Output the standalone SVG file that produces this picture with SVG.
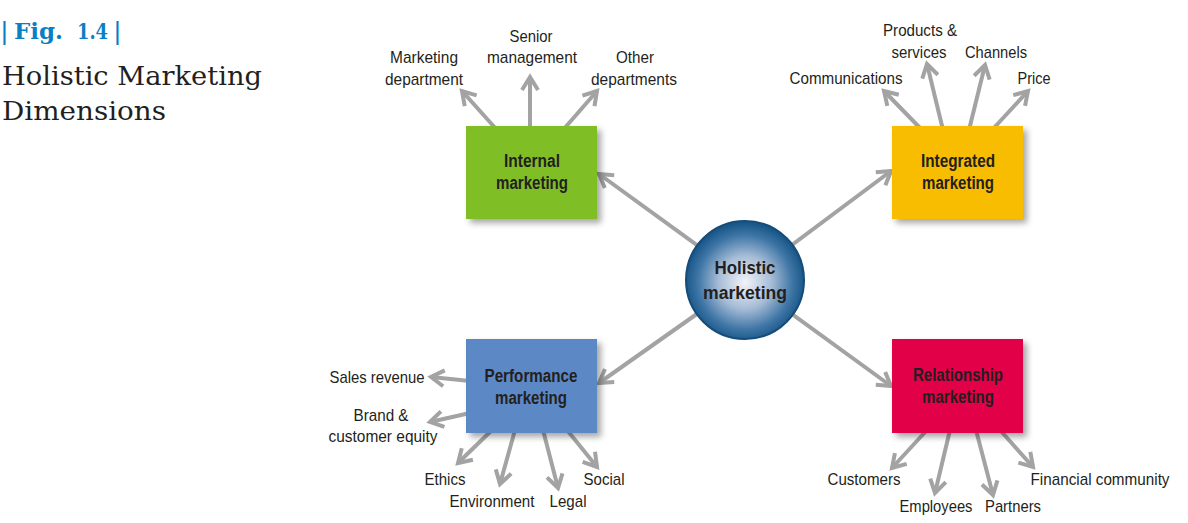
<svg xmlns="http://www.w3.org/2000/svg" width="1188" height="523" viewBox="0 0 1188 523">
<style>
.lbl{font-family:"Liberation Sans",Arial,sans-serif;font-size:17px;fill:#231f20;text-anchor:middle}
.box{font-family:"Liberation Sans",Arial,sans-serif;font-size:18px;font-weight:bold;fill:#231f20;text-anchor:middle}
.con{stroke:#a3a3a3;stroke-width:4;fill:none;marker-end:url(#arr)}
</style>
<defs>
<marker id="arr" markerUnits="userSpaceOnUse" viewBox="-16 -10 20 20" markerWidth="20" markerHeight="20" refX="0" refY="0" orient="auto" overflow="visible">
<path d="M-13,-8 L0,0 L-13,8" fill="none" stroke="#a3a3a3" stroke-width="4" stroke-linejoin="miter"/>
</marker>
<filter id="sh" x="-10%" y="-10%" width="130%" height="130%">
<feDropShadow dx="4" dy="4" stdDeviation="3" flood-color="#000" flood-opacity="0.35"/>
</filter>
<radialGradient id="ball" cx="50%" cy="52%" r="50%">
<stop offset="0" stop-color="#f2f4f8"/>
<stop offset="0.45" stop-color="#a6bcd6"/>
<stop offset="0.8" stop-color="#3f76a6"/>
<stop offset="1" stop-color="#1a588a"/>
</radialGradient>
</defs>
<rect width="1188" height="523" fill="#fff"/>
<g id="title">
<text x="1" y="40" font-family="'Liberation Sans',sans-serif" font-size="26" fill="#0a80c4">|</text>
<text x="14" y="39" font-family="'DejaVu Serif',serif" font-size="22" font-weight="bold" fill="#0a80c4" textLength="49" lengthAdjust="spacingAndGlyphs">Fig.</text>
<text x="77" y="39" font-family="'DejaVu Serif',serif" font-size="22" font-weight="bold" fill="#0a80c4" textLength="31" lengthAdjust="spacingAndGlyphs">1.4</text>
<text x="114" y="40" font-family="'Liberation Sans',sans-serif" font-size="26" fill="#0a80c4">|</text>
<text x="2" y="85" font-family="'DejaVu Serif',serif" font-size="26" fill="#231f20" textLength="260" lengthAdjust="spacingAndGlyphs">Holistic Marketing</text>
<text x="2" y="120" font-family="'DejaVu Serif',serif" font-size="26" fill="#231f20" textLength="164" lengthAdjust="spacingAndGlyphs">Dimensions</text>
</g>
<g id="connectors">
<path class="con" d="M745,280 L599,174"/>
<path class="con" d="M745,280 L891,171"/>
<path class="con" d="M745,280 L599,383"/>
<path class="con" d="M745,280 L891,386"/>
<path class="con" d="M497,130 L462,91"/>
<path class="con" d="M530,130 L530,77"/>
<path class="con" d="M563,130 L597,91"/>
<path class="con" d="M922,130 L884,91"/>
<path class="con" d="M943,130 L927,64"/>
<path class="con" d="M969,130 L985,65"/>
<path class="con" d="M992,130 L1028,91"/>
<path class="con" d="M470,381 L431,377"/>
<path class="con" d="M470,413 L430,422"/>
<path class="con" d="M492,430 L458,463"/>
<path class="con" d="M515,430 L500,484"/>
<path class="con" d="M543,430 L558,488"/>
<path class="con" d="M567,430 L597,467"/>
<path class="con" d="M927,430 L892,468"/>
<path class="con" d="M950,430 L935,493"/>
<path class="con" d="M976,430 L993,495"/>
<path class="con" d="M1000,430 L1033,467"/>
</g>
<g id="holistic">
<circle cx="745" cy="280" r="59" fill="url(#ball)" stroke="#164c78" stroke-width="2"/>
<text class="box" x="745" y="274" font-size="20" textLength="61" lengthAdjust="spacingAndGlyphs">Holistic</text>
<text class="box" x="745" y="299" font-size="20" textLength="84" lengthAdjust="spacingAndGlyphs">marketing</text>
</g>
<g id="internal">
<rect x="466" y="126" width="131" height="93" fill="#80be28" filter="url(#sh)"/>
<text class="box" x="532" y="167" textLength="56" lengthAdjust="spacingAndGlyphs">Internal</text>
<text class="box" x="532" y="189" textLength="72" lengthAdjust="spacingAndGlyphs">marketing</text>
</g>
<g id="integrated">
<rect x="892" y="126" width="131" height="93" fill="#f8bd00" filter="url(#sh)"/>
<text class="box" x="958" y="167" textLength="74" lengthAdjust="spacingAndGlyphs">Integrated</text>
<text class="box" x="958" y="189" textLength="72" lengthAdjust="spacingAndGlyphs">marketing</text>
</g>
<g id="performance">
<rect x="466" y="339" width="131" height="94" fill="#5b89c5" filter="url(#sh)"/>
<text class="box" x="531" y="382" textLength="93" lengthAdjust="spacingAndGlyphs">Performance</text>
<text class="box" x="531" y="404" textLength="72" lengthAdjust="spacingAndGlyphs">marketing</text>
</g>
<g id="relationship">
<rect x="892" y="339" width="131" height="94" fill="#e2004a" filter="url(#sh)"/>
<text class="box" x="958" y="381" textLength="90" lengthAdjust="spacingAndGlyphs">Relationship</text>
<text class="box" x="958" y="403" textLength="72" lengthAdjust="spacingAndGlyphs">marketing</text>
</g>
<g id="lbl-marketing-department"><text class="lbl" x="424" y="63" textLength="68" lengthAdjust="spacingAndGlyphs">Marketing</text><text class="lbl" x="424" y="85" textLength="78" lengthAdjust="spacingAndGlyphs">department</text></g>
<g id="lbl-senior-management"><text class="lbl" x="531" y="42" textLength="43" lengthAdjust="spacingAndGlyphs">Senior</text><text class="lbl" x="532" y="63" textLength="90" lengthAdjust="spacingAndGlyphs">management</text></g>
<g id="lbl-other-departments"><text class="lbl" x="635" y="63" textLength="38" lengthAdjust="spacingAndGlyphs">Other</text><text class="lbl" x="634" y="85" textLength="86" lengthAdjust="spacingAndGlyphs">departments</text></g>
<g id="lbl-products"><text class="lbl" x="920" y="36" textLength="74" lengthAdjust="spacingAndGlyphs">Products &amp;</text><text class="lbl" x="919" y="58" textLength="55" lengthAdjust="spacingAndGlyphs">services</text></g>
<g id="lbl-channels"><text class="lbl" x="996" y="58" textLength="62" lengthAdjust="spacingAndGlyphs">Channels</text></g>
<g id="lbl-communications"><text class="lbl" x="846" y="84" textLength="113" lengthAdjust="spacingAndGlyphs">Communications</text></g>
<g id="lbl-price"><text class="lbl" x="1034" y="84" textLength="33" lengthAdjust="spacingAndGlyphs">Price</text></g>
<g id="lbl-sales"><text class="lbl" x="377" y="383" textLength="95" lengthAdjust="spacingAndGlyphs">Sales revenue</text></g>
<g id="lbl-brand"><text class="lbl" x="381" y="421" textLength="55" lengthAdjust="spacingAndGlyphs">Brand &amp;</text><text class="lbl" x="383" y="442" textLength="109" lengthAdjust="spacingAndGlyphs">customer equity</text></g>
<g id="lbl-ethics"><text class="lbl" x="445" y="485" textLength="41" lengthAdjust="spacingAndGlyphs">Ethics</text></g>
<g id="lbl-environment"><text class="lbl" x="492" y="507" textLength="85" lengthAdjust="spacingAndGlyphs">Environment</text></g>
<g id="lbl-legal"><text class="lbl" x="568" y="507" textLength="37" lengthAdjust="spacingAndGlyphs">Legal</text></g>
<g id="lbl-social"><text class="lbl" x="604" y="485" textLength="41" lengthAdjust="spacingAndGlyphs">Social</text></g>
<g id="lbl-customers"><text class="lbl" x="864" y="485" textLength="73" lengthAdjust="spacingAndGlyphs">Customers</text></g>
<g id="lbl-employees"><text class="lbl" x="936" y="512" textLength="73" lengthAdjust="spacingAndGlyphs">Employees</text></g>
<g id="lbl-partners"><text class="lbl" x="1013" y="512" textLength="56" lengthAdjust="spacingAndGlyphs">Partners</text></g>
<g id="lbl-financial"><text class="lbl" x="1100" y="485" textLength="139" lengthAdjust="spacingAndGlyphs">Financial community</text></g>
</svg>
